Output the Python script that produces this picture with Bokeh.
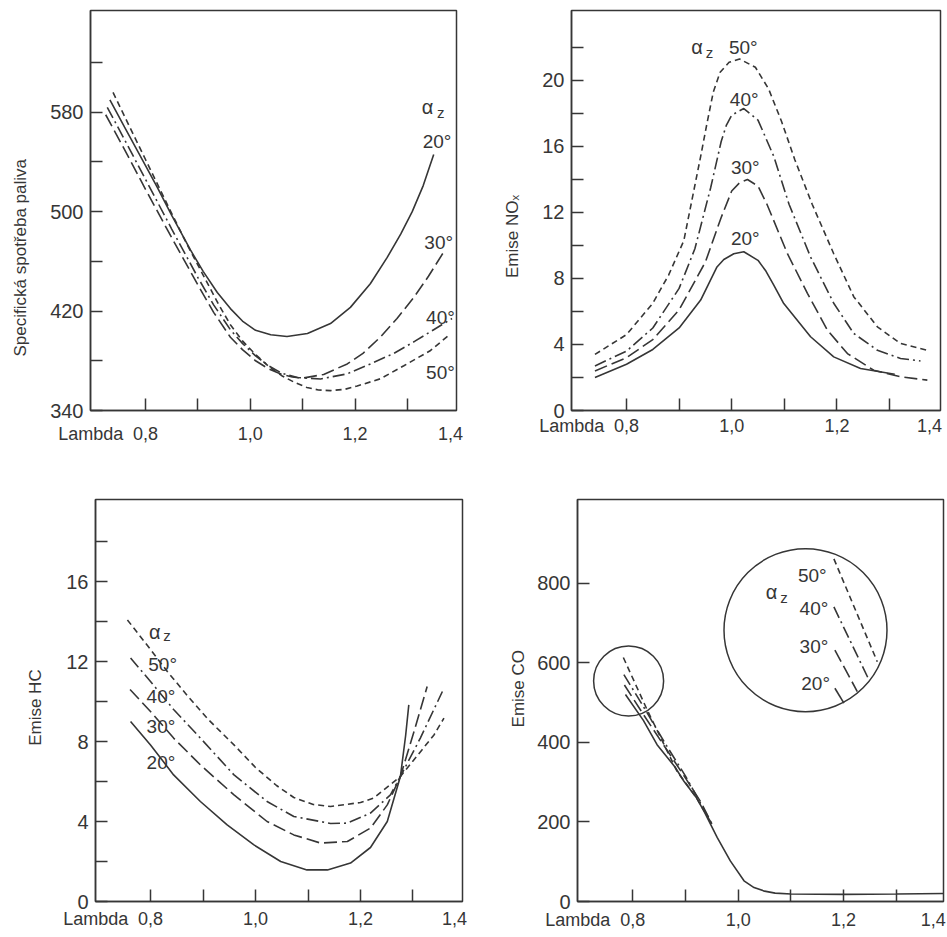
import math
from bokeh.plotting import figure
from bokeh.layouts import column, row
from bokeh.models import FixedTicker, Label, Range1d
from bokeh.embed import file_html
from bokeh.resources import INLINE

# ---------------- data ----------------
angles = ["20°", "30°", "40°", "50°"]

# Panel 1: Specifická spotřeba paliva
fuel_x20 = [0.732, 0.76, 0.80, 0.822, 0.85, 0.886, 0.91, 0.937, 0.962, 0.985, 1.01, 1.039, 1.07, 1.109, 1.153, 1.191, 1.229, 1.261, 1.287, 1.309, 1.33, 1.35]
fuel_y20 = [590, 568, 537, 520, 497, 469, 452, 435, 422, 412, 404.5, 401, 399.5, 402, 410, 423, 442, 463, 482, 500, 521, 546]
fuel_x30 = [0.724, 0.76, 0.80, 0.85, 0.90, 0.93, 0.962, 0.985, 1.01, 1.035, 1.06, 1.08, 1.099, 1.14, 1.185, 1.215, 1.248, 1.28, 1.312, 1.34, 1.369]
fuel_y30 = [578, 550, 518, 479, 441, 419, 399, 389, 380, 373.5, 369, 367, 366, 369, 377.5, 386, 399, 414, 431, 448, 467.5]
fuel_x40 = [0.727, 0.76, 0.80, 0.85, 0.90, 0.93, 0.962, 0.985, 1.01, 1.035, 1.06, 1.09, 1.134, 1.185, 1.229, 1.274, 1.315, 1.35, 1.385]
fuel_y40 = [584, 558, 526, 486, 447, 425, 405, 394, 384, 376, 370, 366.5, 365.4, 369.5, 377.5, 386, 396, 405, 414]
fuel_x50 = [0.738, 0.77, 0.80, 0.846, 0.88, 0.91, 0.94, 0.962, 0.985, 1.01, 1.035, 1.06, 1.085, 1.108, 1.13, 1.153, 1.18, 1.204, 1.248, 1.293, 1.344, 1.382]
fuel_y50 = [596, 568, 542, 502, 473, 449, 425, 409, 396, 385, 375.5, 368, 362.5, 358.5, 356.5, 356, 357, 359.7, 365.5, 376, 388.3, 401.7]

# Panel 2: Emise NOx
nox_x20 = [0.74, 0.80, 0.85, 0.90, 0.941, 0.955, 0.972, 0.985, 1.004, 1.023, 1.05, 1.065, 1.08, 1.099, 1.15, 1.194, 1.245, 1.31]
nox_y20 = [2.0, 2.8, 3.7, 5.0, 6.69, 7.6, 8.7, 9.15, 9.5, 9.62, 9.1, 8.45, 7.6, 6.48, 4.47, 3.25, 2.55, 2.2]
nox_x30 = [0.74, 0.80, 0.85, 0.90, 0.95, 0.98, 1.00, 1.015, 1.03, 1.05, 1.067, 1.106, 1.144, 1.182, 1.22, 1.27, 1.321, 1.372]
nox_y30 = [2.4, 3.2, 4.3, 6.1, 9.0, 11.7, 13.3, 13.8, 14.0, 13.6, 12.5, 9.5, 7.1, 4.87, 3.45, 2.44, 2.04, 1.84]
nox_x40 = [0.74, 0.80, 0.85, 0.90, 0.93, 0.96, 0.98, 0.99, 1.00, 1.023, 1.05, 1.08, 1.109, 1.15, 1.194, 1.232, 1.277, 1.321, 1.359]
nox_y40 = [2.7, 3.6, 5.0, 7.4, 9.8, 13.5, 16.3, 17.3, 17.9, 18.3, 17.6, 15.4, 12.5, 9.3, 6.5, 4.67, 3.65, 3.15, 3.0]
nox_x50 = [0.74, 0.80, 0.85, 0.88, 0.909, 0.941, 0.953, 0.965, 0.978, 0.995, 1.015, 1.045, 1.07, 1.095, 1.12, 1.153, 1.194, 1.232, 1.277, 1.321, 1.372]
nox_y50 = [3.4, 4.6, 6.5, 8.2, 10.3, 15.4, 17.4, 19.3, 20.5, 21.1, 21.3, 20.8, 19.5, 17.5, 15.2, 12.5, 9.5, 6.9, 5.07, 4.06, 3.65]

# Panel 3: Emise HC
hc_x20 = [0.762, 0.80, 0.844, 0.895, 0.946, 0.997, 1.048, 1.098, 1.137, 1.181, 1.219, 1.251, 1.276, 1.286, 1.292]
hc_y20 = [9.0, 7.83, 6.33, 5.0, 3.83, 2.83, 2.0, 1.58, 1.58, 1.92, 2.7, 4.0, 6.25, 8.3, 9.83]
hc_x30 = [0.761, 0.80, 0.844, 0.895, 0.959, 1.022, 1.073, 1.124, 1.175, 1.219, 1.251, 1.276, 1.302, 1.327]
hc_y30 = [10.6, 9.5, 8.17, 6.83, 5.33, 4.0, 3.33, 2.92, 3.0, 3.67, 4.83, 6.25, 8.5, 10.75]
hc_x40 = [0.762, 0.80, 0.844, 0.895, 0.959, 1.022, 1.073, 1.143, 1.175, 1.219, 1.257, 1.276, 1.314, 1.356]
hc_y40 = [12.17, 11.0, 9.6, 8.17, 6.33, 5.0, 4.25, 3.9, 3.92, 4.42, 5.33, 6.25, 8.17, 10.5]
hc_x50 = [0.756, 0.80, 0.832, 0.87, 0.91, 0.959, 1.00, 1.04, 1.073, 1.11, 1.143, 1.20, 1.225, 1.276, 1.317, 1.34, 1.359]
hc_y50 = [14.08, 12.6, 11.5, 10.3, 9.1, 7.83, 6.7, 5.8, 5.2, 4.85, 4.75, 4.95, 5.17, 6.25, 7.58, 8.33, 9.17]

# Panel 4: Emise CO
co_x20 = [0.786, 0.82, 0.846, 0.88, 0.897, 0.92, 0.935, 0.96, 0.985, 1.011, 1.03, 1.05, 1.07, 1.10, 1.20, 1.30, 1.39]
co_y20 = [520, 455, 394, 338, 302, 262, 227, 161, 102, 52, 35, 26, 21, 19, 18, 19, 20]
co_x30 = [0.784, 0.82, 0.86, 0.90, 0.93, 0.95]
co_y30 = [544, 470, 390, 310, 248, 195]
co_x40 = [0.783, 0.82, 0.86, 0.90, 0.95]
co_y40 = [570, 490, 400, 315, 195]
co_x50 = [0.782, 0.827, 0.884, 0.92, 0.95]
co_y50 = [613, 482, 327, 262, 195]
# magnified detail inside the big circle
zoom_x20 = [1.1835, 1.2006]
zoom_y20 = [535.8, 498.3]
zoom_x30 = [1.1835, 1.226]
zoom_y30 = [631.7, 527.5]
zoom_x40 = [1.1816, 1.2481]
zoom_y40 = [740, 556.7]
zoom_x50 = [1.1816, 1.2639]
zoom_y50 = [860.8, 602.5]
circle_small = (0.792, 554)
circle_big = (1.1277, 681.7)

x_marks = [0.8, 0.9, 1.0, 1.1, 1.2, 1.3]
x_labelled = {0.8: "0,8", 1.0: "1,0", 1.2: "1,2"}

# ---------------- style ----------------
INK = "#363636"
FONT = "Liberation Sans"
DASH = {"20°": "solid", "30°": "13 5", "40°": "12 4 2 4", "50°": "6 4"}
NBSP = "\u00a0"


def base(width, height, xr, yr, left, right, top, bottom, y_major, y_minor,
         x_standoff, pos_14, ytitle, ytitle_standoff):
    p = figure(width=width, height=height, x_range=Range1d(*xr), y_range=Range1d(*yr),
               output_backend="svg", toolbar_location=None,
               min_border_left=left, min_border_right=right,
               min_border_top=top, min_border_bottom=bottom)
    p.grid.visible = False
    p.background_fill_color = "white"
    p.border_fill_color = "white"
    p.outline_line_color = INK
    p.outline_line_width = 1.5
    p.outline_line_alpha = 1.0
    # x axis: tick marks from minor ticks, labels (incl. "Lambda" at the left edge) from major ticks
    lam = xr[0] + 0.0005
    labels = {lam: "Lambda", pos_14: "1,4"}
    labels.update(x_labelled)
    p.xaxis.ticker = FixedTicker(ticks=[lam, 0.8, 1.0, 1.2, pos_14], minor_ticks=x_marks)
    p.xaxis.major_label_overrides = labels
    p.xaxis.major_tick_in = 0
    p.xaxis.major_tick_out = 0
    p.xaxis.major_tick_line_color = None
    p.xaxis.minor_tick_in = 12
    p.xaxis.minor_tick_out = 0
    p.xaxis.major_label_text_font_size = "18px"
    p.xaxis.major_label_standoff = x_standoff
    p.yaxis.ticker = FixedTicker(ticks=y_major, minor_ticks=y_minor)
    p.yaxis.major_tick_in = 12
    p.yaxis.major_tick_out = 0
    p.yaxis.minor_tick_in = 12
    p.yaxis.minor_tick_out = 0
    p.yaxis.major_tick_line_color = INK
    p.yaxis.major_label_text_font_size = "20px"
    p.yaxis.major_label_standoff = 7
    for ax in (p.xaxis[0], p.yaxis[0]):
        ax.axis_line_color = INK
        ax.axis_line_width = 1.5
        ax.minor_tick_line_color = INK
        ax.major_tick_line_width = 1.5
        ax.minor_tick_line_width = 1.5
        ax.major_label_text_font = FONT
        ax.major_label_text_color = INK
    p.yaxis.axis_label = ytitle
    p.yaxis.axis_label_text_font = FONT
    p.yaxis.axis_label_text_font_size = "17px"
    p.yaxis.axis_label_text_font_style = "normal"
    p.yaxis.axis_label_text_color = INK
    p.yaxis.axis_label_standoff = ytitle_standoff
    return p


def lab(p, x, y, text, size="19px"):
    p.add_layout(Label(x=x, y=y, text=text, text_font=FONT, text_font_size=size,
                       text_align="center", text_baseline="middle", text_color=INK))


def alpha_z(p, ax, ay, zx, zy):
    lab(p, ax, ay, "α", size="20px")
    lab(p, zx, zy, "z", size="15px")


def curves(p, series):
    for name, xs, ys in series:
        p.line(xs, ys, line_color=INK, line_width=1.6, line_dash=DASH[name])


# ---------------- panel 1 ----------------
p1 = base(470, 462, (0.695, 1.3935), (340, 661.9), 90, 14, 10, 52,
          [340, 420, 500, 580], [380, 460, 540, 620], 13, 1.382,
          "Specifická spotřeba paliva" + NBSP * 20, 17)
curves(p1, [("20°", fuel_x20, fuel_y20), ("30°", fuel_x30, fuel_y30),
            ("40°", fuel_x40, fuel_y40), ("50°", fuel_x50, fuel_y50)])
alpha_z(p1, 1.3384, 583.9, 1.3635, 579.9)
for t, x, y in zip(angles, [1.3563, 1.3596, 1.3629, 1.3629], [556.5, 475.2, 414.9, 370.6]):
    lab(p1, x, y, t)

# ---------------- panel 2 ----------------
p2 = base(476, 462, (0.6954, 1.397), (0, 24.24), 101, 6, 10, 52,
          [0, 4, 8, 12, 16, 20], [2, 6, 10, 14, 18, 22], 5, 1.376,
          "Emise NOₓ" + NBSP * 11, 17)
curves(p2, [("20°", nox_x20, nox_y20), ("30°", nox_x30, nox_y30),
            ("40°", nox_x40, nox_y40), ("50°", nox_x50, nox_y50)])
alpha_z(p2, 0.934, 22.01, 0.9576, 21.7)
for t, x, y in zip(angles, [1.0258, 1.0258, 1.0238, 1.022], [10.4, 14.71, 18.87, 22.0]):
    lab(p2, x, y, t)

# ---------------- panel 3 ----------------
p3 = base(470, 474, (0.6952, 1.3943), (0, 20.1), 95, 8, 37, 35,
          [0, 4, 8, 12, 16], [2, 6, 10, 14, 18], 7, 1.379,
          "Emise HC" + NBSP * 3, 18)
curves(p3, [("20°", hc_x20, hc_y20), ("30°", hc_x30, hc_y30),
            ("40°", hc_x40, hc_y40), ("50°", hc_x50, hc_y50)])
alpha_z(p3, 0.8083, 13.48, 0.8314, 13.28)
for t, x, y in zip(angles, [0.8199, 0.8199, 0.8199, 0.8231], [6.97, 8.74, 10.24, 11.86]):
    lab(p3, x, y, t)

# ---------------- panel 4 ----------------
p4 = base(476, 474, (0.695, 1.3896), (0, 1010), 107, 3, 37, 35,
          [0, 200, 400, 600, 800], [], 8, 1.370,
          NBSP * 5 + "Emise CO", 6)
curves(p4, [("20°", co_x20, co_y20), ("30°", co_x30, co_y30),
            ("40°", co_x40, co_y40), ("50°", co_x50, co_y50)])
curves(p4, [("20°", zoom_x20, zoom_y20), ("30°", zoom_x30, zoom_y30),
            ("40°", zoom_x40, zoom_y40), ("50°", zoom_x50, zoom_y50)])
p4.scatter([circle_small[0]], [circle_small[1]], marker="circle", size=70,
           fill_color=None, line_color=INK, line_width=1.5)
p4.scatter([circle_big[0]], [circle_big[1]], marker="circle", size=163,
           fill_color=None, line_color=INK, line_width=1.5)
alpha_z(p4, 1.0633, 777.5, 1.0867, 765)
for t, x, y in zip(angles, [1.147, 1.1437, 1.1437, 1.1405], [548, 640, 736, 819]):
    lab(p4, x, y, t)

layout = column(row(p1, p2), row(p3, p4))
open("out.html", "w").write(file_html(layout, INLINE))
